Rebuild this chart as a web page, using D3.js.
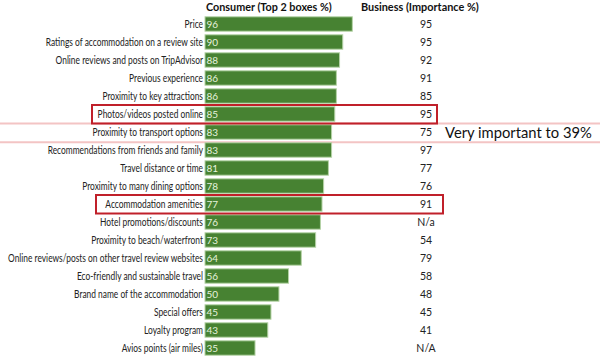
<!DOCTYPE html>
<html><head><meta charset="utf-8">
<script src="https://cdn.jsdelivr.net/npm/d3@7"></script>
<style>body{margin:0;background:#fff}</style>
</head><body>
<svg id="c" width="600" height="361"></svg>
<script>
const categories = ["Price","Ratings of accommodation on a review site","Online reviews and posts on TripAdvisor","Previous experience","Proximity to key attractions","Photos/videos posted online","Proximity to transport options","Recommendations from friends and family","Travel distance or time","Proximity to many dining options","Accommodation amenities","Hotel promotions/discounts","Proximity to beach/waterfront","Online reviews/posts on other travel review websites","Eco-friendly and sustainable travel","Brand name of the accommodation","Special offers","Loyalty program","Avios points (air miles)"];
const consumer = [96,90,88,86,86,85,83,83,81,78,77,76,73,64,56,50,45,43,35];
const business = ["95","95","92","91","85","95","75","97","77","76","91","N/a","54","79","58","48","45","41","N/A"];
const boxed = ["Photos/videos posted online","Accommodation amenities"];
const lined = ["Proximity to transport options"];
const note = "Very important to 39%";

const svg = d3.select("#c");
const font = "Lato, 'Open Sans', sans-serif";
const barX = 205;
const x = d3.scaleLinear().domain([0,100]).range([199.2, 358.7]);
const y = d3.scaleBand().domain(categories).range([15, 357]).paddingInner(0.2).paddingOuter(0.1);
const yc = d => y(d) + y.bandwidth()/2;

function fitWidth(sel, target) {
  const w = sel.node().getComputedTextLength();
  const fs = parseFloat(sel.attr("font-size"));
  sel.attr("font-size", fs * target / w);
}

// highlight lines
lined.forEach(c => {
  [yc(c)-8.5, yc(c)+10.2].forEach(yy => {
    svg.append("line").attr("x1",0).attr("x2",600).attr("y1",yy).attr("y2",yy)
      .attr("stroke","#f3c4c4").attr("stroke-width",2);
  });
  const t = svg.append("text").attr("x",445).attr("y",yc(c)+1).attr("dy","0.35em")
    .attr("font-family",font).attr("font-size",15).attr("fill","#111").text(note);
  fitWidth(t, 147);
});

// headers
const h1 = svg.append("text").attr("x",206).attr("y",10.5).attr("font-family",font)
  .attr("font-weight","bold").attr("font-size",11).attr("fill","#111").text("Consumer (Top 2 boxes %)");
fitWidth(h1, 126);
const h2 = svg.append("text").attr("x",361).attr("y",10.5).attr("font-family",font)
  .attr("font-weight","bold").attr("font-size",11).attr("fill","#111").text("Business (Importance %)");
fitWidth(h2, 118);

// bars
svg.selectAll("rect.bar").data(categories).join("rect").attr("class","bar")
  .attr("x",barX).attr("y",d=>y(d)).attr("height",y.bandwidth())
  .attr("width",(d,i)=>x(consumer[i])-barX)
  .attr("fill","#478232").attr("stroke","#b5d3a6").attr("stroke-width",1);

svg.selectAll("text.val").data(categories).join("text").attr("class","val")
  .attr("x",barX+1.5).attr("y",d=>yc(d)).attr("dy","0.35em")
  .attr("font-family",font).attr("font-size",10).attr("fill","#e6f2dc")
  .text((d,i)=>consumer[i]);

// category labels, compressed horizontally to fit the label column
const labG = svg.append("g");
const labs = labG.selectAll("text.cat").data(categories).join("text").attr("class","cat")
  .attr("x",0).attr("y",d=>yc(d)).attr("dy","0.35em").attr("text-anchor","end")
  .attr("font-family",font).attr("font-size",10.5).attr("fill","#222")
  .text(d=>d);
let maxW = 0;
labs.each(function(){ maxW = Math.max(maxW, this.getComputedTextLength()); });
const k = Math.min(1, 195 / maxW);
labG.attr("transform", `translate(203,0) scale(${k},1)`);

svg.selectAll("text.bus").data(categories).join("text").attr("class","bus")
  .attr("x",426).attr("y",d=>yc(d)).attr("dy","0.35em").attr("text-anchor","middle")
  .attr("font-family",font).attr("font-size",10.5).attr("fill","#222")
  .text((d,i)=>business[i]);

// red boxes
const boxSpec = {"Photos/videos posted online":[92,437],"Accommodation amenities":[96,443]};
boxed.forEach(c => {
  const [l,r] = boxSpec[c];
  svg.append("rect").attr("x",l).attr("y",yc(c)-9).attr("width",r-l).attr("height",18.5)
    .attr("fill","none").attr("stroke","#c0202a").attr("stroke-width",2);
});
</script>
</body></html>
